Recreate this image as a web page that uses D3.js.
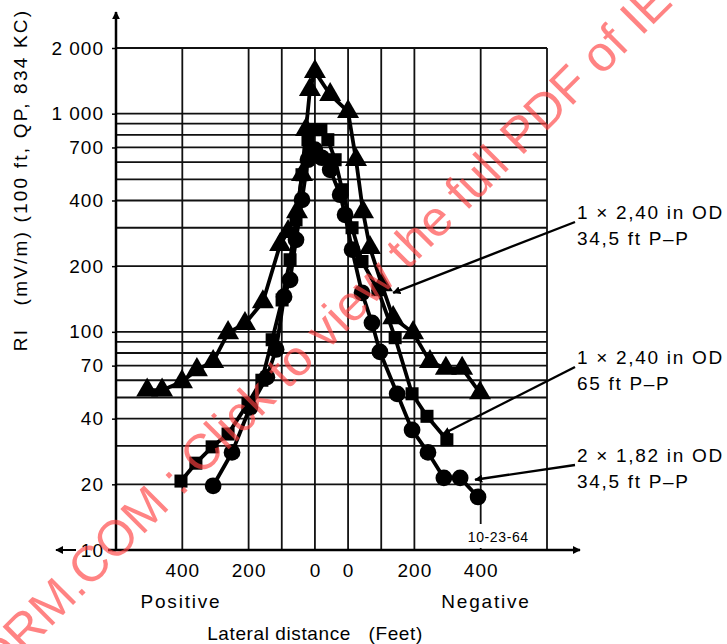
<!DOCTYPE html>
<html>
<head>
<meta charset="utf-8">
<script src="https://cdn.jsdelivr.net/npm/d3@7"></script>
<style>
  body { margin: 0; background: #fff; }
  svg { font-family: Arial, "Liberation Sans", sans-serif; }
</style>
</head>
<body>
<script>
// lateral position is plotted on one continuous scale: positive side to the left of -50,
// negative side to the right of +50 (the strip between the two zeros is the line span)
const triPos = [-556, -511, -451, -406, -357, -312, -261, -207, -155, -131, -104, -89, -77, -65, -50, -4, 50, 74, 95, 116, 152, 186, 246, 297, 345, 394, 448];
const triRI  = [54, 54, 59, 67, 73, 99, 109, 137, 251, 288, 355, 525, 845, 1288, 1559, 1222, 1021, 615, 355, 243, 164, 116, 99, 73, 68, 68, 52.5];

const sqPos = [-454, -409, -360, -312, -252, -210, -179, -149, -125, -107, -89, -71, -53, -32, -11, 11, 32, 62, 92, 140, 192, 243, 288, 348];
const sqRI  = [20.7, 25, 29.7, 34, 47, 60, 92, 140, 214, 326, 525, 760, 845, 845, 760, 615, 448, 300, 210, 156, 94, 52, 41, 32];

const circPos = [-357, -300, -246, -195, -167, -143, -125, -107, -89, -71, -50, -29, -4, 26, 41, 62, 92, 122, 146, 198, 243, 291, 339, 388, 442];
const circRI  = [19.7, 28, 45, 62, 83, 145, 173, 264, 403, 615, 684, 628, 553, 425, 344, 238, 151, 110, 81, 52, 35.5, 28, 21.4, 21.4, 17.5];

const xTickPos = [-450, -250, -50, 50, 250, 450];
const xTickLabels = ["400", "200", "0", "0", "200", "400"];
const xGridPos = [-650, -450, -250, -150, -50, 50, 150, 250, 450, 650];
const yTicks = [10, 20, 40, 70, 100, 200, 400, 700, 1000, 2000];
const yTickLabels = ["10", "20", "40", "70", "100", "200", "400", "700", "1 000", "2 000"];
const yGrid = [20, 30, 40, 50, 60, 70, 80, 90, 100, 200, 300, 400, 500, 600, 700, 800, 900, 1000, 2000];

const labels = [
  { lines: ["1 \u00d7 2,40 in OD", "34,5 ft P\u2013P"], pos: 186, ri: 151 },
  { lines: ["1 \u00d7 2,40 in OD", "65 ft P\u2013P"], pos: 336, ri: 34 },
  { lines: ["2 \u00d7 1,82 in OD", "34,5 ft P\u2013P"], pos: 433, ri: 21 }
];
const labelBase = [219, 364, 462];

const W = 727, H = 644;
const margin = { top: 48, right: 180, bottom: 94, left: 116 },
    width = W - margin.left - margin.right,
    height = H - margin.top - margin.bottom;

const FS = 19, LS = 1;

const svg = d3.select("body").append("svg")
    .attr("width", W)
    .attr("height", H);

svg.append("defs").append("marker")
    .attr("id", "ah")
    .attr("viewBox", "0 0 10 10")
    .attr("refX", 9).attr("refY", 5)
    .attr("markerWidth", 8).attr("markerHeight", 8)
    .attr("markerUnits", "userSpaceOnUse")
    .attr("orient", "auto")
    .append("path")
    .attr("d", "M0,0L10,5L0,10z")
    .attr("fill", "#000");

const x = d3.scaleLinear().domain([-650, 650]).range([0, width]);
const y = d3.scaleLog().domain([10, 2000]).range([height, 0]);

const g = svg.append("g")
    .attr("transform", "translate(" + margin.left + "," + margin.top + ")");

// grid
g.selectAll(".hgrid")
    .data(yGrid)
    .enter().append("line")
    .attr("x1", 0).attr("x2", width)
    .attr("y1", d => y(d)).attr("y2", d => y(d))
    .attr("stroke", "#111").attr("stroke-width", 1.8);
g.selectAll(".vgrid")
    .data(xGridPos)
    .enter().append("line")
    .attr("x1", d => x(d)).attr("x2", d => x(d))
    .attr("y1", 0).attr("y2", height)
    .attr("stroke", "#111").attr("stroke-width", 1.8);

// axes
const xAxis = d3.axisBottom(x)
    .tickValues(xTickPos)
    .tickSize(0)
    .tickPadding(14)
    .tickFormat((d, i) => xTickLabels[i]);
const gx = g.append("g")
    .attr("transform", "translate(0," + height + ")")
    .call(xAxis);
gx.select(".domain").remove();
gx.selectAll("text").attr("font-size", FS).attr("letter-spacing", LS).attr("fill", "#000")
    .attr("font-family", "Arial, 'Liberation Sans', sans-serif");

const yAxis = d3.axisLeft(y)
    .tickValues(yTicks)
    .tickSize(4)
    .tickPadding(8)
    .tickFormat((d, i) => yTickLabels[i]);
const gy = g.append("g").call(yAxis);
gy.select(".domain").remove();
gy.selectAll("line").attr("stroke", "#000").attr("stroke-width", 1.5);
gy.selectAll("text").attr("font-size", FS).attr("letter-spacing", LS).attr("fill", "#000")
    .attr("font-family", "Arial, 'Liberation Sans', sans-serif");

// axis lines with arrows
g.append("line")
    .attr("x1", 0).attr("x2", 0)
    .attr("y1", height).attr("y2", -36)
    .attr("stroke", "#000").attr("stroke-width", 2.5)
    .attr("marker-end", "url(#ah)");
g.append("line")
    .attr("x1", -8).attr("x2", width + 33)
    .attr("y1", height).attr("y2", height)
    .attr("stroke", "#000").attr("stroke-width", 2.5)
    .attr("marker-end", "url(#ah)");
g.append("line")
    .attr("x1", -40).attr("x2", -60)
    .attr("y1", height).attr("y2", height)
    .attr("stroke", "#000").attr("stroke-width", 2)
    .attr("marker-end", "url(#ah)");

// series
const series = [
  { pos: triPos, ri: triRI, shape: d3.symbolTriangle, size: 210 },
  { pos: sqPos, ri: sqRI, shape: d3.symbolSquare, size: 170 },
  { pos: circPos, ri: circRI, shape: d3.symbolCircle, size: 220 }
];
const line = d3.line()
    .x(d => x(d[0]))
    .y(d => y(d[1]));

series.forEach(function(s) {
    const pts = s.pos.map((p, i) => [p, s.ri[i]]);
    g.append("path")
        .datum(pts)
        .attr("d", line)
        .attr("fill", "none")
        .attr("stroke", "#000")
        .attr("stroke-width", 3.8)
        .attr("stroke-linejoin", "round");
    g.selectAll(null)
        .data(pts)
        .enter().append("path")
        .attr("transform", d => "translate(" + x(d[0]) + "," + y(d[1]) + ")")
        .attr("d", d3.symbol().type(s.shape).size(s.size))
        .attr("fill", "#000");
});

// date stamp
g.append("rect")
    .attr("x", x(380)).attr("y", height - 26)
    .attr("width", 78).attr("height", 24)
    .attr("fill", "#fff");
g.append("text")
    .attr("x", x(503)).attr("y", height - 8)
    .attr("text-anchor", "middle")
    .attr("font-size", 14)
    .attr("letter-spacing", 0.6)
    .text("10-23-64");

// annotations
labels.forEach(function(l, i) {
    const t = svg.append("text")
        .attr("x", 577)
        .attr("y", labelBase[i])
        .attr("font-size", FS)
        .attr("letter-spacing", 1.7);
    t.selectAll("tspan")
        .data(l.lines)
        .enter().append("tspan")
        .attr("x", 577)
        .attr("dy", (d, j) => j === 0 ? 0 : 26)
        .text(d => d);
    svg.append("line")
        .attr("x1", 575).attr("y1", labelBase[i] + 3)
        .attr("x2", margin.left + x(l.pos)).attr("y2", margin.top + y(l.ri))
        .attr("stroke", "#000").attr("stroke-width", 2.4)
        .attr("marker-end", "url(#ah)");
});

// axis titles
svg.append("text")
    .attr("transform", "translate(27,180) rotate(-90)")
    .attr("text-anchor", "middle")
    .attr("font-size", FS)
    .attr("letter-spacing", 2.2)
    .attr("xml:space", "preserve")
    .text("RI   (mV/m) (100 ft, QP, 834 KC)");
svg.append("text")
    .attr("x", 181).attr("y", 608)
    .attr("text-anchor", "middle")
    .attr("font-size", FS)
    .attr("letter-spacing", 1.8)
    .text("Positive");
svg.append("text")
    .attr("x", 486).attr("y", 608)
    .attr("text-anchor", "middle")
    .attr("font-size", FS)
    .attr("letter-spacing", 1.8)
    .text("Negative");
svg.append("text")
    .attr("x", 315).attr("y", 640)
    .attr("text-anchor", "middle")
    .attr("font-size", FS)
    .attr("letter-spacing", 0.6)
    .attr("xml:space", "preserve")
    .text("Lateral distance   (Feet)");

// watermark
svg.append("text")
    .attr("transform", "translate(360,318) rotate(-45)")
    .attr("text-anchor", "middle")
    .attr("font-size", 50)
    .attr("fill", "#ff4040")
    .attr("fill-opacity", 0.65)
    .text("IECNORM.COM : Click to view the full PDF of IEC 60000");
</script>
</body>
</html>
